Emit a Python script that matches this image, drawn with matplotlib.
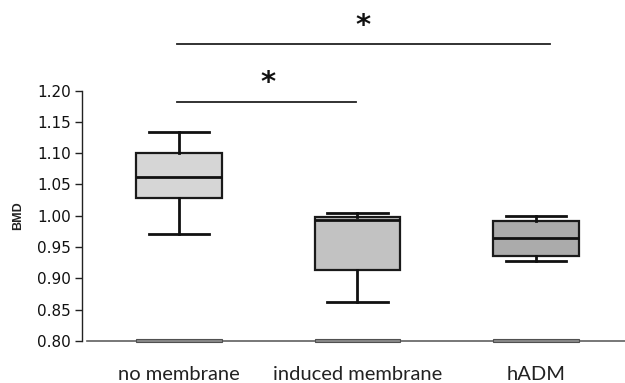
import matplotlib
matplotlib.use("Agg")
import matplotlib.pyplot as plt
from matplotlib.patches import Rectangle

categories = ["no membrane", "induced membrane", "hADM"]
whisker_low = [0.971, 0.862, 0.927]
q1 = [1.029, 0.913, 0.936]
median = [1.062, 0.994, 0.965]
q3 = [1.100, 0.998, 0.991]
whisker_high = [1.134, 1.004, 1.000]
box_colors = ["#d6d6d6", "#c2c2c2", "#ababab"]
yticks = [0.80, 0.85, 0.90, 0.95, 1.00, 1.05, 1.10, 1.15, 1.20]
ytick_labels = ["0.80", "0.85", "0.90", "0.95", "1.00", "1.05", "1.10", "1.15", "1.20"]
# significance brackets: (start group, end group, level)
sig_pairs = [(1, 1.99, 1.182), (1, 3.08, 1.274)]
sig_marks = [(1.50, 1.212), (2.03, 1.303)]

fig = plt.figure(figsize=(6.25, 3.83), dpi=100)
ax = fig.add_axes([0.1312, 0.1097, 0.8688, 0.654])

positions = [1, 2, 3]
stats = []
for i, c in enumerate(categories):
    stats.append(dict(label=c, whislo=whisker_low[i], q1=q1[i], med=median[i],
                      q3=q3[i], whishi=whisker_high[i], fliers=[]))

bp = ax.bxp(stats, positions=positions, widths=0.48, capwidths=0.34,
            patch_artist=True, showfliers=False,
            boxprops=dict(edgecolor="#1a1a1a", linewidth=1.6),
            medianprops=dict(color="#111111", linewidth=2.0),
            whiskerprops=dict(color="#111111", linewidth=2.0),
            capprops=dict(color="#111111", linewidth=2.0))
for patch, col in zip(bp["boxes"], box_colors):
    patch.set_facecolor(col)

# flat gray bars on baseline
for p in positions:
    ax.add_patch(Rectangle((p - 0.24, 0.7985), 0.48, 0.0045, facecolor="#8a8a8a",
                           edgecolor="#505050", linewidth=0.8, clip_on=False, zorder=4))

ax.set_xlim(0.4566, 3.4986)
ax.set_ylim(0.80, 1.20)

# baseline
ax.plot([0.485, 3.4986], [0.80, 0.80], color="#606060", linewidth=1.2,
        clip_on=False, zorder=3)

for s in ["top", "right", "bottom"]:
    ax.spines[s].set_visible(False)
ax.spines["left"].set_color("#222222")
ax.spines["left"].set_linewidth(1.0)

ax.set_yticks(yticks)
ax.set_yticklabels(ytick_labels, fontfamily="DejaVu Sans", fontsize=11, color="#111111")
ax.tick_params(axis="y", length=5, width=1.0, color="#222222", pad=3)

ax.set_xticks(positions)
ax.set_xticklabels(categories, fontfamily="Lato", fontsize=14.5, color="#222222")
ax.tick_params(axis="x", length=0, pad=18)

ax.set_ylabel("BMD", fontfamily="Liberation Sans", fontweight="bold", fontsize=9,
              color="#222222", labelpad=9)

for x0, x1, y in sig_pairs:
    ax.plot([x0 - 0.011, x1], [y, y], color="#222222", linewidth=1.3, clip_on=False)
for x, y in sig_marks:
    ax.text(x, y, "*", fontsize=21, fontweight="bold", ha="center", va="center",
            fontfamily="DejaVu Sans", color="#111111", clip_on=False)

fig.savefig("out.png", dpi=100)
